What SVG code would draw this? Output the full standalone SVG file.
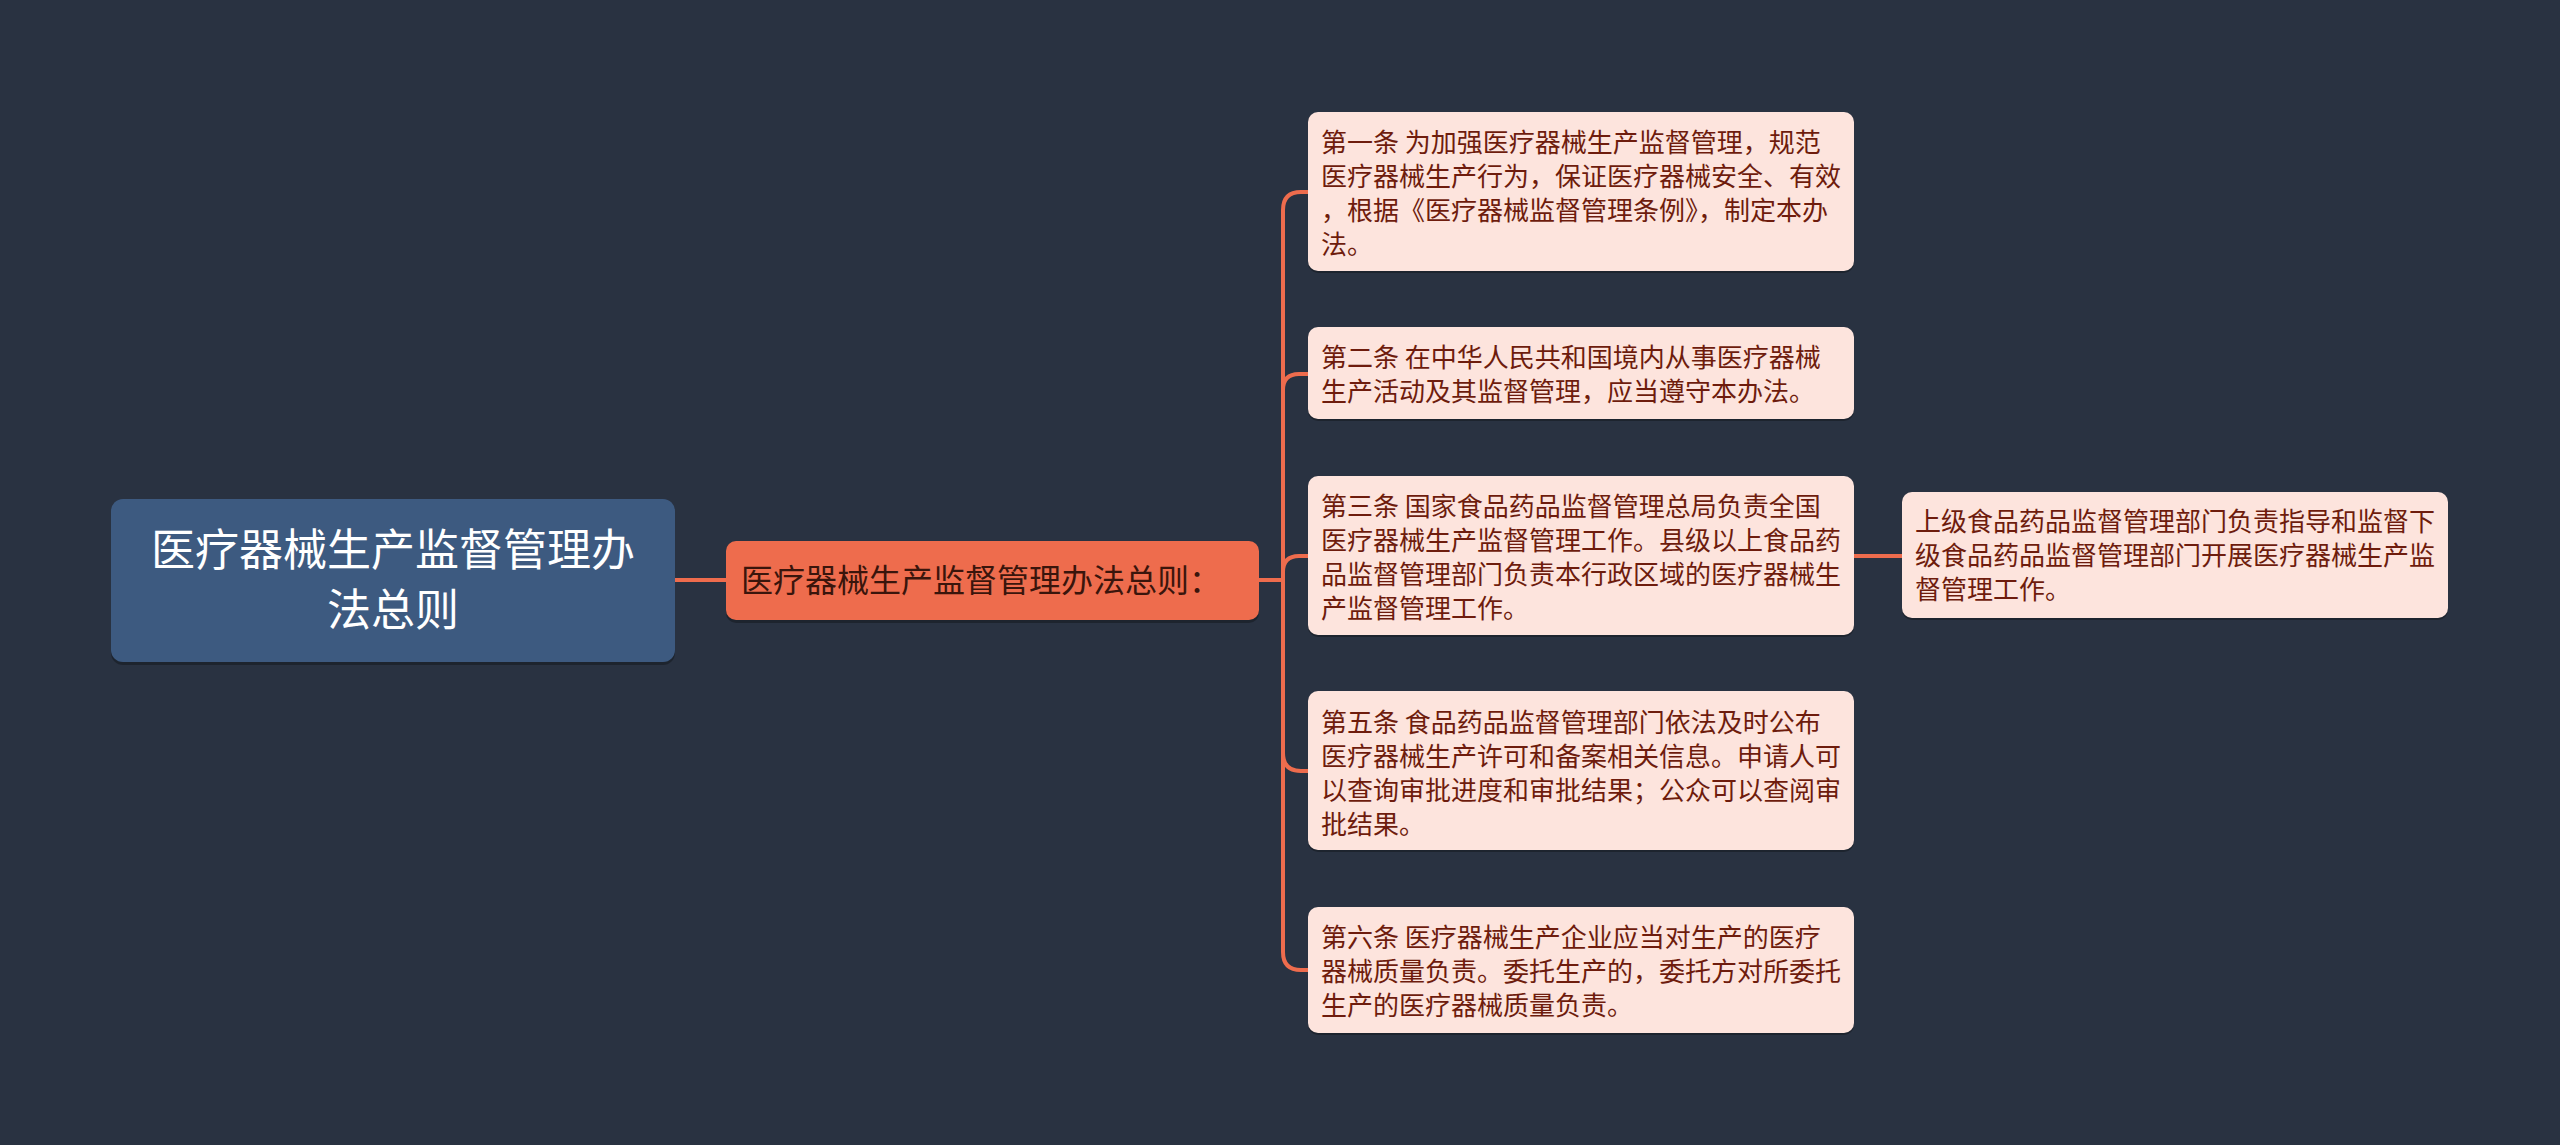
<svg xmlns="http://www.w3.org/2000/svg" width="2560" height="1145" viewBox="0 0 2560 1145">
<defs>
<style>
.t{font-family:"Noto Sans CJK SC","Noto Sans",sans-serif;}
.root{fill:#3d5a80;}
.mid{fill:#ee6c4d;}
.leaf{fill:#fde4dd;}
.sh{fill:#000;opacity:0.28;}
.rt{fill:#ffffff;font-size:44px;text-anchor:middle;}
.mt{fill:#3a150c;font-size:32px;}
.lt{fill:#6e1c0d;font-size:26px;}
.ln{fill:none;stroke:#ee6c4d;stroke-width:4;}
</style>
</defs>
<rect width="2560" height="1145" fill="#293241"/>
<g id="connectors">
<path class="ln" d="M675 580 H726"/>
<path class="ln" d="M1259 580 H1283 V210 Q1283 192 1301 192 H1308"/>
<path class="ln" d="M1283 390 Q1283 374 1299 374 H1308"/>
<path class="ln" d="M1283 572 Q1283 556 1299 556 H1308"/>
<path class="ln" d="M1283 580 V753 Q1283 771 1301 771 H1308"/>
<path class="ln" d="M1283 753 V952 Q1283 970 1301 970 H1308"/>
<path class="ln" d="M1854 556 H1902"/>
</g>
<g id="root">
<rect class="sh" x="111" y="502" width="564" height="163" rx="12"/>
<rect class="root" x="111" y="499" width="564" height="163" rx="12"/>
<text class="t rt" x="393" y="566">医疗器械生产监督管理办</text>
<text class="t rt" x="393" y="626">法总则</text>
</g>
<g id="center">
<rect class="sh" x="726" y="544" width="533" height="79" rx="10"/>
<rect class="mid" x="726" y="541" width="533" height="79" rx="10"/>
<text class="t mt" x="741" y="592">医疗器械生产监督管理办法总则：</text>
</g>
<g id="leaf1">
<rect class="sh" x="1308" y="114" width="546" height="159" rx="10"/>
<rect class="leaf" x="1308" y="112" width="546" height="159" rx="10"/>
<text class="t lt" x="1321" y="152">第一条 为加强医疗器械生产监督管理，规范</text>
<text class="t lt" x="1321" y="186">医疗器械生产行为，保证医疗器械安全、有效</text>
<text class="t lt" x="1321" y="220">，根据《医疗器械监督管理条例》，制定本办</text>
<text class="t lt" x="1321" y="254">法。</text>
</g>
<g id="leaf2">
<rect class="sh" x="1308" y="329" width="546" height="92" rx="10"/>
<rect class="leaf" x="1308" y="327" width="546" height="92" rx="10"/>
<text class="t lt" x="1321" y="367">第二条 在中华人民共和国境内从事医疗器械</text>
<text class="t lt" x="1321" y="401">生产活动及其监督管理，应当遵守本办法。</text>
</g>
<g id="leaf3">
<rect class="sh" x="1308" y="478" width="546" height="159" rx="10"/>
<rect class="leaf" x="1308" y="476" width="546" height="159" rx="10"/>
<text class="t lt" x="1321" y="516">第三条 国家食品药品监督管理总局负责全国</text>
<text class="t lt" x="1321" y="550">医疗器械生产监督管理工作。县级以上食品药</text>
<text class="t lt" x="1321" y="584">品监督管理部门负责本行政区域的医疗器械生</text>
<text class="t lt" x="1321" y="618">产监督管理工作。</text>
</g>
<g id="leaf3a">
<rect class="sh" x="1902" y="494" width="546" height="126" rx="10"/>
<rect class="leaf" x="1902" y="492" width="546" height="126" rx="10"/>
<text class="t lt" x="1915" y="531">上级食品药品监督管理部门负责指导和监督下</text>
<text class="t lt" x="1915" y="565">级食品药品监督管理部门开展医疗器械生产监</text>
<text class="t lt" x="1915" y="599">督管理工作。</text>
</g>
<g id="leaf5">
<rect class="sh" x="1308" y="693" width="546" height="159" rx="10"/>
<rect class="leaf" x="1308" y="691" width="546" height="159" rx="10"/>
<text class="t lt" x="1321" y="732">第五条 食品药品监督管理部门依法及时公布</text>
<text class="t lt" x="1321" y="766">医疗器械生产许可和备案相关信息。申请人可</text>
<text class="t lt" x="1321" y="800">以查询审批进度和审批结果；公众可以查阅审</text>
<text class="t lt" x="1321" y="834">批结果。</text>
</g>
<g id="leaf6">
<rect class="sh" x="1308" y="909" width="546" height="126" rx="10"/>
<rect class="leaf" x="1308" y="907" width="546" height="126" rx="10"/>
<text class="t lt" x="1321" y="947">第六条 医疗器械生产企业应当对生产的医疗</text>
<text class="t lt" x="1321" y="981">器械质量负责。委托生产的，委托方对所委托</text>
<text class="t lt" x="1321" y="1015">生产的医疗器械质量负责。</text>
</g>
</svg>
